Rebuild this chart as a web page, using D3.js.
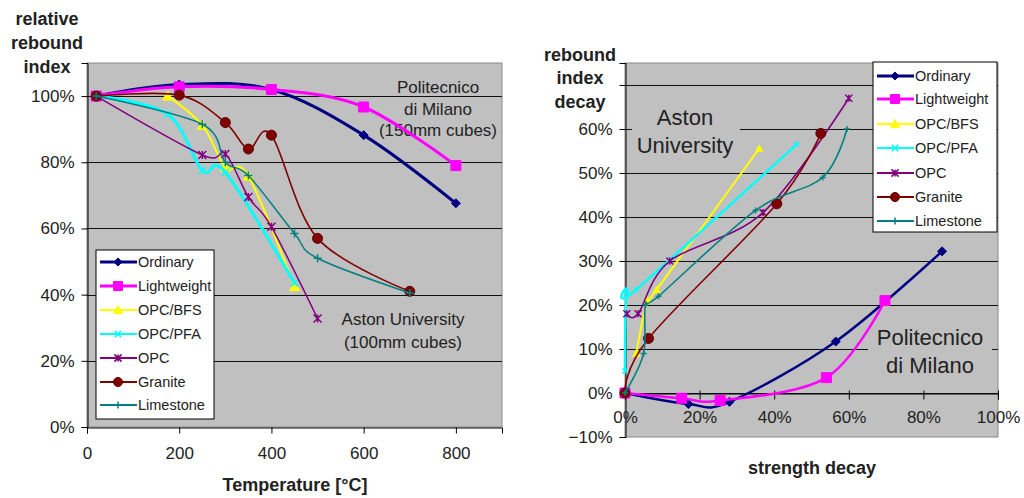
<!DOCTYPE html>
<html>
<head>
<meta charset="utf-8">
<script src="https://cdn.jsdelivr.net/npm/d3@7"></script>
<style>
  html, body { margin: 0; padding: 0; background: #fff; }
  svg { display: block; font-family: "Liberation Sans", Arial, sans-serif; }
</style>
</head>
<body>
<svg id="chart" width="1024" height="498"></svg>
<script>
// ---------- DATA ----------
const seriesNames = ["Ordinary", "Lightweight", "OPC/BFS", "OPC/PFA", "OPC", "Granite", "Limestone"];
const seriesColors = ["#000080", "#ff00ff", "#ffff00", "#00ffff", "#800080", "#800000", "#008080"];
const seriesMarkers = ["diamond", "square", "triangle", "x", "star", "circle", "plus"];

// Left chart: temperature [°C] vs relative rebound index
const leftOrdinary    = [[20, 1.00], [200, 1.035], [400, 1.02], [600, 0.882], [800, 0.676]];
const leftLightweight = [[20, 1.00], [200, 1.028], [400, 1.02], [600, 0.967], [800, 0.79]];
const leftOPCBFS      = [[175, 1.00], [250, 0.912], [300, 0.786], [350, 0.758], [450, 0.424]];
const leftOPCPFA      = [[20, 1.00], [175, 0.945], [250, 0.775], [300, 0.77], [450, 0.435]];
const leftOPC         = [[20, 1.00], [250, 0.822], [300, 0.825], [350, 0.695], [400, 0.605], [500, 0.328]];
const leftGranite     = [[20, 1.00], [200, 1.003], [300, 0.92], [350, 0.84], [400, 0.882], [500, 0.57], [700, 0.41]];
const leftLimestone   = [[20, 1.00], [250, 0.915], [300, 0.80], [350, 0.76], [450, 0.585], [500, 0.51], [700, 0.405]];

// Right chart: strength decay vs rebound index decay
const rightOrdinary    = [[0, 0], [0.17, -0.025], [0.28, -0.02], [0.565, 0.117], [0.85, 0.322]];
const rightLightweight = [[0, 0], [0.152, -0.012], [0.255, -0.017], [0.54, 0.035], [0.697, 0.21]];
const rightOPCBFS      = [[0.03, 0.09], [0.06, 0.21], [0.085, 0.235], [0.36, 0.556]];
const rightOPCPFA      = [[0.0, 0.05], [0.005, 0.23], [0.03, 0.235], [0.46, 0.565]];
const rightOPC         = [[0.005, 0.18], [0.035, 0.18], [0.12, 0.30], [0.37, 0.41], [0.6, 0.67]];
const rightGranite     = [[0, 0], [0.063, 0.124], [0.407, 0.43], [0.525, 0.59]];
const rightLimestone   = [[0, 0], [0.05, 0.09], [0.055, 0.20], [0.09, 0.22], [0.35, 0.415], [0.53, 0.49], [0.595, 0.60]];

const leftXTicks = [0, 200, 400, 600, 800];
const leftYTicks = [0, 0.2, 0.4, 0.6, 0.8, 1.0];
const rightXTicks = [0, 0.2, 0.4, 0.6, 0.8, 1.0];
const rightYTicks = [-0.1, 0, 0.1, 0.2, 0.3, 0.4, 0.5, 0.6];
const rightGridTicks = [0, 0.1, 0.2, 0.3, 0.4, 0.5, 0.6, 0.7];

const leftTitleLines = ["relative", "rebound", "index"];
const rightTitleLines = ["rebound", "index", "decay"];
const leftXTitle = "Temperature [°C]";
const rightXTitle = "strength decay";
const leftNoteTop = ["Politecnico", "di Milano", "(150mm cubes)"];
const leftNoteBottom = ["Aston University", "(100mm cubes)"];
const rightNoteTop = ["Aston", "University"];
const rightNoteBottom = ["Politecnico", "di Milano"];

const leftData = [leftOrdinary, leftLightweight, leftOPCBFS, leftOPCPFA, leftOPC, leftGranite, leftLimestone];
const rightData = [rightOrdinary, rightLightweight, rightOPCBFS, rightOPCPFA, rightOPC, rightGranite, rightLimestone];

// ---------- DRAWING ----------
const svg = d3.select("#chart");
const TXT = "#222";
const PLOTBG = "#c0c0c0";
const pct = d3.format(".0%");

function markerPath(type, s) {
  switch (type) {
    case "diamond": return `M0,${-s}L${s},0L0,${s}L${-s},0Z`;
    case "square": return `M${-s},${-s}H${s}V${s}H${-s}Z`;
    case "triangle": return `M0,${-s}L${s},${s*0.8}L${-s},${s*0.8}Z`;
    case "x": return `M${-s},${-s}L${s},${s}M${-s},${s}L${s},${-s}`;
    case "star": return `M${-s},${-s}L${s},${s}M${-s},${s}L${s},${-s}M0,${-s}V${s}`;
    case "plus": return `M${-s},0H${s}M0,${-s}V${s}`;
    default: return null;
  }
}
function drawMarker(g, type, x, y, color, s) {
  if (s <= 0) return;
  if (type === "circle") {
    g.append("circle").attr("cx", x).attr("cy", y).attr("r", s)
      .attr("fill", color).attr("stroke", "#5a0000").attr("stroke-width", 1);
    return;
  }
  const filled = (type === "diamond" || type === "square" || type === "triangle");
  g.append("path").attr("d", markerPath(type, s))
    .attr("transform", `translate(${x},${y})`)
    .attr("fill", filled ? color : "none")
    .attr("stroke", color).attr("stroke-width", filled ? 1 : 1.5);
}
const markerSizesLeft = [4.5, 5, 5, 3.5, 4, 5, 4];
const markerSizesRight = [4.5, 5, 3.5, 2.5, 3.5, 5, 3];
const lineWidthsLeft = [3, 3, 2, 3, 1.5, 1.6, 1.5];
const lineWidthsRight = [2.5, 2.5, 2, 2.5, 1.6, 1.6, 1.6];

function drawLegend(g, x0, y0, w, h, rowYs) {
  g.append("rect").attr("x", x0).attr("y", y0).attr("width", w).attr("height", h)
    .attr("fill", "#fff").attr("stroke", "#000").attr("stroke-width", 1);
  seriesNames.forEach((name, i) => {
    const y = rowYs[i];
    g.append("line").attr("x1", x0 + 4).attr("x2", x0 + 41).attr("y1", y).attr("y2", y)
      .attr("stroke", seriesColors[i]).attr("stroke-width", i < 2 ? 3 : 2);
    drawMarker(g, seriesMarkers[i], x0 + 22, y, seriesColors[i], markerSizesLeft[i] * 0.9);
    g.append("text").attr("x", x0 + 42).attr("y", y).attr("dy", "0.35em")
      .attr("font-size", 14.5).attr("fill", TXT).text(name);
  });
}

function drawChart(cfg) {
  const g = svg.append("g");
  const x = d3.scaleLinear().domain(cfg.xDomain).range([cfg.left, cfg.right]);
  const y = d3.scaleLinear().domain(cfg.yDomain).range([cfg.bottom, cfg.top]);

  g.append("rect").attr("x", cfg.left).attr("y", cfg.top)
    .attr("width", cfg.right - cfg.left).attr("height", cfg.bottom - cfg.top)
    .attr("fill", PLOTBG).attr("stroke", "#8a8a8a").attr("stroke-width", 1);

  g.append("g").selectAll("line").data(cfg.gridTicks).join("line")
    .attr("x1", cfg.left).attr("x2", cfg.right)
    .attr("y1", d => Math.round(y(d)) + 0.5).attr("y2", d => Math.round(y(d)) + 0.5)
    .attr("stroke", "#111").attr("stroke-width", 1);

  (cfg.boxes || []).forEach(b => {
    g.append("rect").attr("x", b[0]).attr("y", b[1]).attr("width", b[2]).attr("height", b[3]).attr("fill", PLOTBG);
  });

  const yAxis = d3.axisLeft(y).tickValues(cfg.yTicks.concat(cfg.extraYTickMarks || []))
    .tickFormat(d => cfg.yTicks.includes(d) ? pct(d) : "").tickSizeOuter(0).tickSize(6);
  const ya = g.append("g").attr("transform", `translate(${cfg.left + 0.5},0)`).call(yAxis);
  ya.select(".domain").attr("stroke", "#000");
  ya.selectAll(".tick line").attr("stroke", "#000");
  ya.selectAll(".tick text").attr("font-size", cfg.tickFont).attr("fill", TXT)
    .attr("font-family", "Liberation Sans, Arial, sans-serif").attr("x", cfg.yLabelX - cfg.left);

  const xAxis = d3.axisBottom(x).tickValues(cfg.xTicks).tickFormat(cfg.xFormat).tickSizeOuter(0).tickSize(6);
  const xa = g.append("g").attr("transform", `translate(0,${Math.round(y(cfg.xAxisAt)) + 0.5})`).call(xAxis);
  xa.select(".domain").attr("stroke", "#000");
  xa.selectAll(".tick line").attr("stroke", "#000").attr("y1", cfg.xTickUp || 0);
  xa.selectAll(".tick text").attr("font-size", cfg.tickFont).attr("fill", TXT)
    .attr("font-family", "Liberation Sans, Arial, sans-serif").attr("y", cfg.xLabelDy).attr("dy", "0.35em");

  cfg.notes.forEach(n => {
    n.lines.forEach((t, i) => {
      g.append("text").attr("x", n.x).attr("y", n.ys[i]).attr("dy", "0.35em")
        .attr("text-anchor", "middle").attr("font-size", n.size).attr("fill", TXT).text(t);
    });
  });

  const line = d3.line().x(d => x(d[0])).y(d => y(d[1])).curve(d3.curveCardinal.tension(0));
  cfg.data.forEach((series, i) => {
    g.append("path").datum(series).attr("d", line).attr("fill", "none")
      .attr("stroke", seriesColors[i]).attr("stroke-width", cfg.lineWidths[i])
      .attr("stroke-linejoin", "round").attr("stroke-linecap", "round");
    series.forEach(d => drawMarker(g, seriesMarkers[i], x(d[0]), y(d[1]), seriesColors[i], cfg.markerSizes[i]));
  });

  cfg.yTitle.lines.forEach((t, i) => {
    g.append("text").attr("x", cfg.yTitle.x).attr("y", cfg.yTitle.ys[i]).attr("dy", "0.35em")
      .attr("text-anchor", "middle").attr("font-size", 18).attr("font-weight", "bold").attr("fill", TXT).text(t);
  });
  g.append("text").attr("x", cfg.xTitle.x).attr("y", cfg.xTitle.y).attr("dy", "0.35em")
    .attr("text-anchor", "middle").attr("font-size", 18).attr("font-weight", "bold").attr("fill", TXT).text(cfg.xTitle.text);

  drawLegend(g, cfg.legend[0], cfg.legend[1], cfg.legend[2], cfg.legend[3], cfg.legend[4]);
}

drawChart({
  left: 87, right: 502, top: 63, bottom: 427,
  xDomain: [0, 900], yDomain: [0, 1.1],
  xTicks: leftXTicks, yTicks: leftYTicks, gridTicks: leftYTicks.filter(d => d > 0),
  xFormat: d3.format("d"), xAxisAt: 0, xLabelDy: 26, yLabelX: 74, tickFont: 17,
  data: leftData, lineWidths: lineWidthsLeft, markerSizes: markerSizesLeft,
  notes: [
    { lines: leftNoteTop, x: 438, ys: [87, 109, 130], size: 17 },
    { lines: leftNoteBottom, x: 403, ys: [319, 342], size: 17 }
  ],
  yTitle: { lines: leftTitleLines, x: 47, ys: [19, 43, 67] },
  xTitle: { text: leftXTitle, x: 295, y: 485 },
  legend: [96, 250, 118, 169, [262, 286, 310, 334, 358, 382, 405]]
});

drawChart({
  left: 625, right: 998, top: 63, bottom: 437,
  xDomain: [0, 1], yDomain: [-0.1, 0.75],
  xTicks: rightXTicks, yTicks: rightYTicks, gridTicks: rightGridTicks, extraYTickMarks: [0.7],
  xFormat: pct, xAxisAt: 0, xLabelDy: 24, xTickUp: -3, yLabelX: 612, tickFont: 17,
  data: rightData, lineWidths: lineWidthsRight, markerSizes: markerSizesRight,
  boxes: [[632, 103, 108, 56], [868, 322, 124, 58]],
  notes: [
    { lines: rightNoteTop, x: 685, ys: [117, 145], size: 22 },
    { lines: rightNoteBottom, x: 930, ys: [337, 365], size: 22 }
  ],
  yTitle: { lines: rightTitleLines, x: 580, ys: [55, 78, 102] },
  xTitle: { text: rightXTitle, x: 812, y: 468 },
  legend: [873, 62, 124, 170, [76, 99, 124, 148, 173, 197, 221]]
});
</script>
</body>
</html>
